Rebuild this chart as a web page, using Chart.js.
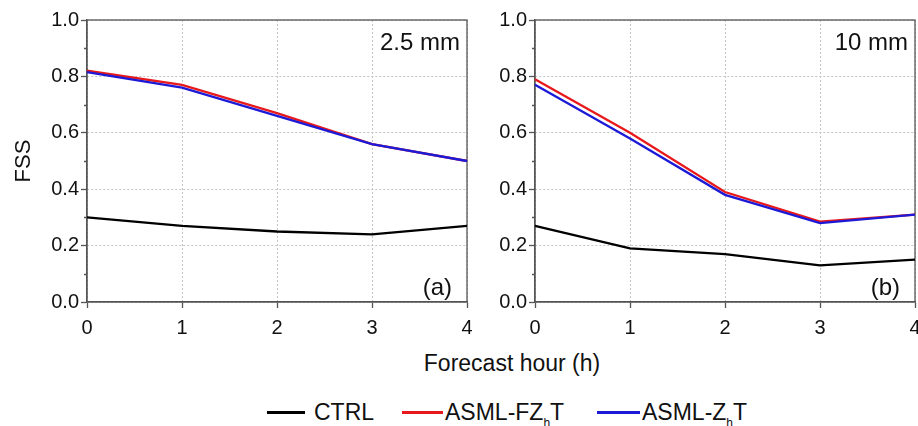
<!DOCTYPE html>
<html>
<head>
<meta charset="utf-8">
<script src="https://cdn.jsdelivr.net/npm/chart.js@4/dist/chart.umd.min.js"></script>
<style>
  html, body { margin: 0; padding: 0; background: #fff; }
  #wrap { position: relative; width: 918px; height: 426px; font-family: "Liberation Sans", Arial, sans-serif; color: #111; }
  .panel { position: absolute; top: 0; height: 350px; }
  #xTitle { position: absolute; left: 362px; width: 300px; top: 351px; text-align: center; font-size: 23px; line-height: 24px; }
  .lgLine { position: absolute; height: 3px; top: 411px; }
  .lgText { position: absolute; top: 400px; font-size: 23px; line-height: 24px; white-space: nowrap; }
  .lgText sub { font-size: 12px; vertical-align: -7px; line-height: 0; }
</style>
</head>
<body>
<div id="wrap">
  <div class="panel" style="left:0;width:480px"><canvas id="chartA"></canvas></div>
  <div class="panel" style="left:480px;width:438px"><canvas id="chartB"></canvas></div>
  <div id="xTitle">Forecast hour (h)</div>

  <div class="lgLine" style="left:267px;width:38px;background:#000"></div>
  <div class="lgText" style="left:314px">CTRL</div>
  <div class="lgLine" style="left:402px;width:41px;background:#e8191c"></div>
  <div class="lgText" style="left:445px">ASML-FZ<sub>h</sub>T</div>
  <div class="lgLine" style="left:597px;width:43px;background:#1c1ad6"></div>
  <div class="lgText" style="left:642px">ASML-Z<sub>h</sub>T</div>
</div>

<script>
// forecast hours on the x axis
const hours = ['0', '1', '2', '3', '4'];

// FSS, 2.5 mm threshold
const ctrlA = [0.30, 0.27, 0.25, 0.24, 0.27];
const fzhtA = [0.82, 0.77, 0.67, 0.56, 0.50];
const zhtA  = [0.815, 0.76, 0.66, 0.56, 0.50];

// FSS, 10 mm threshold
const ctrlB = [0.27, 0.19, 0.17, 0.13, 0.15];
const fzhtB = [0.79, 0.60, 0.39, 0.285, 0.31];
const zhtB  = [0.77, 0.58, 0.38, 0.28, 0.31];

const FONT = "'Liberation Sans', Arial, sans-serif";
const AXIS_COLOR = '#555';

// full box around the plot area + small minor ticks on the y axis + corner labels
const framePlugin = {
  id: 'frame',
  beforeDatasetsDraw(chart) {
    const { ctx, chartArea: a } = chart;
    const y = chart.scales.y;
    ctx.save();
    ctx.strokeStyle = AXIS_COLOR;
    ctx.lineWidth = 1.3;
    ctx.strokeRect(a.left, a.top, a.right - a.left, a.bottom - a.top);
    ctx.beginPath();
    for (let v = 0.1; v < 1; v += 0.2) {
      const py = Math.round(y.getPixelForValue(v)) + 0.5;
      ctx.moveTo(a.left - 3, py);
      ctx.lineTo(a.left, py);
    }
    ctx.stroke();
    ctx.restore();
  },
  afterDraw(chart, args, opts) {
    const { ctx, chartArea: a } = chart;
    ctx.save();
    ctx.fillStyle = '#111';
    ctx.font = '24px ' + FONT;
    ctx.textAlign = 'right';
    ctx.textBaseline = 'middle';
    ctx.fillText(opts.threshold, a.right - 7, a.top + 23);
    ctx.fillText(opts.tag, a.right - 15, a.bottom - 14);
    ctx.restore();
  }
};

function makeChart(id, ctrl, fzht, zht, opts) {
  const ctx = document.getElementById(id).getContext('2d');
  return new Chart(ctx, {
    type: 'line',
    data: {
      labels: hours,
      datasets: [
        { label: 'CTRL', data: ctrl, borderColor: '#000', order: 2 },
        { label: 'ASML-FZhT', data: fzht, borderColor: '#e8191c', order: 1 },
        { label: 'ASML-ZhT', data: zht, borderColor: '#1c1ad6', order: 0 }
      ]
    },
    options: {
      responsive: true,
      maintainAspectRatio: false,
      animation: false,
      devicePixelRatio: 1,
      layout: { padding: { top: 20, right: opts.padRight, left: 0, bottom: 0 } },
      elements: {
        line: { borderWidth: 2.3, tension: 0 },
        point: { radius: 0 }
      },
      plugins: {
        legend: { display: false },
        tooltip: { enabled: false },
        frame: { threshold: opts.threshold, tag: opts.tag }
      },
      scales: {
        x: {
          offset: false,
          grid: { color: '#c4c4c4', lineWidth: 1, tickColor: AXIS_COLOR, tickLength: 6, tickWidth: 1.3 },
          border: { color: AXIS_COLOR, width: 1.3, dash: [2, 2] },
          ticks: { color: '#111', font: { family: FONT, size: 20 }, padding: 8, maxRotation: 0 },
          afterFit(s) { s.height = 48; s.paddingLeft = 0; s.paddingRight = 0; }
        },
        y: {
          min: 0,
          max: 1,
          grid: { color: '#c4c4c4', lineWidth: 1, tickColor: AXIS_COLOR, tickLength: 6, tickWidth: 1.3 },
          border: { color: AXIS_COLOR, width: 1.3, dash: [2, 2] },
          ticks: {
            stepSize: 0.2,
            color: '#111',
            font: { family: FONT, size: 20 },
            padding: 2,
            callback: v => v.toFixed(1)
          },
          title: {
            display: opts.showTitle,
            text: 'FSS',
            color: '#111',
            font: { family: FONT, size: 22 },
            padding: { top: 11, bottom: 0 }
          },
          afterFit(s) { s.width = opts.yWidth; }
        }
      }
    },
    plugins: [framePlugin]
  });
}

makeChart('chartA', ctrlA, fzhtA, zhtA, { yWidth: 87, padRight: 13, showTitle: true, threshold: '2.5 mm', tag: '(a)' });
makeChart('chartB', ctrlB, fzhtB, zhtB, { yWidth: 55, padRight: 3, showTitle: false, threshold: '10 mm', tag: '(b)' });
</script>
</body>
</html>
